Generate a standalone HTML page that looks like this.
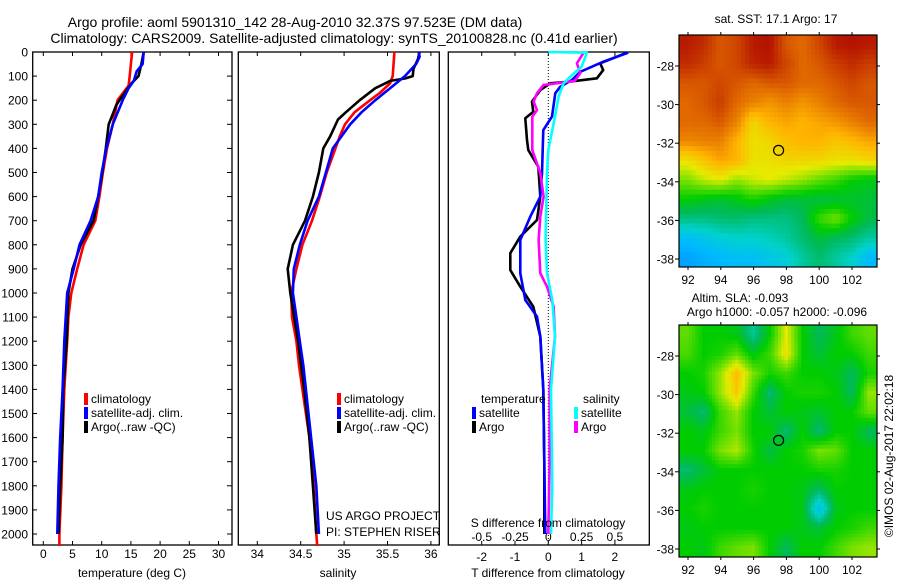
<!DOCTYPE html>
<html><head><meta charset="utf-8"><style>
html,body{margin:0;padding:0;background:#fff;}
svg{display:block;font-family:"Liberation Sans",sans-serif;}
text{fill:#000;}
</style></head><body>
<svg id="fig" width="900" height="580" viewBox="0 0 900 580">
<defs>
<clipPath id="clipA"><rect x="679" y="35" width="198" height="232"/></clipPath>
<clipPath id="clipB"><rect x="679" y="325" width="198" height="232"/></clipPath>
</defs>
<g>
<text x="295" y="27" font-size="14" text-anchor="middle">Argo profile: aoml 5901310_142 28-Aug-2010 32.37S 97.523E (DM data)</text>
<text x="334" y="43" font-size="14" text-anchor="middle">Climatology: CARS2009. Satellite-adjusted climatology: synTS_20100828.nc (0.41d earlier)</text>
</g>
<g id="p1"></g>
<g id="p2"></g>
<g id="p3"></g>
<g id="m1"></g>
<g id="m2"></g>
<text x="776" y="23" font-size="12" text-anchor="middle">sat. SST: 17.1  Argo: 17</text>
<text x="740" y="302" font-size="12" text-anchor="middle">Altim. SLA: -0.093</text>
<text x="777" y="316" font-size="12" text-anchor="middle">Argo h1000: -0.057 h2000: -0.096</text>
<text transform="translate(893,456) rotate(-90)" font-size="12" text-anchor="middle">©IMOS 02-Aug-2017 22:02:18</text>
</svg>
<script>
// ---- profile data ----
const tDepth = [0,50,100,140,200,300,400,500,600,700,800,900,1000,1100,1200,1400,1600,1800,2000,2050];
const tClim  = [15.2,15.0,14.8,14.6,12.7,11.9,10.9,10.2,9.6,8.9,6.9,5.8,4.8,4.3,4.1,3.6,3.3,3.1,2.75,2.75];
const tSatDepth = [0,50,80,120,150,200,300,400,500,600,700,800,900,1000,1200,1400,1600,1800,2000];
const tSat   = [17.2,17.0,16.0,15.5,14.6,13.6,11.9,10.8,10.0,9.4,8.1,6.2,5.2,4.1,3.6,3.3,2.9,2.6,2.4];
const tArgoDepth = [0,50,100,130,170,220,270,300,400,500,600,700,800,900,1000,1200,1400,1600,1800,2000];
const tArgo  = [17.2,16.8,16.3,15.1,13.9,12.5,11.7,11.2,10.7,10.1,9.4,8.6,6.4,5.0,4.3,4.0,3.4,3.3,2.9,2.6];

const sClimDepth = [0,100,130,170,200,250,300,350,400,500,600,700,800,900,1000,1100,1200,1300,1400,1500,1600,1800,2000,2050];
const sClim  = [35.58,35.56,35.53,35.41,35.30,35.12,35.01,34.95,34.90,34.80,34.72,34.63,34.52,34.45,34.39,34.40,34.45,34.48,34.52,34.56,34.60,34.65,34.68,34.69];
const sSatDepth = [0,20,50,100,150,200,250,300,400,500,600,700,800,900,1000,1100,1200,1300,1400,1600,1800,2000];
const sSat   = [35.86,35.87,35.83,35.70,35.53,35.36,35.20,35.07,34.87,34.79,34.71,34.58,34.49,34.42,34.41,34.45,34.49,34.53,34.56,34.62,34.68,34.71];
const sArgoDepth = [0,30,70,100,110,120,150,200,250,280,350,400,500,600,700,800,850,900,1000,1200,1400,1600,1800,2000];
const sArgo  = [35.87,35.85,35.80,35.79,35.70,35.53,35.36,35.18,35.02,34.93,34.84,34.76,34.71,34.64,34.55,34.41,34.38,34.35,34.38,34.47,34.54,34.60,34.64,34.68];

const dTSatDepth = [3,40,82,116,144,171,268,324,503,600,683,780,918,1029,1098,1181,1400,1700,2000];
const dTSat  = [2.4,1.66,0.96,0.71,0.36,0.21,0.11,-0.15,-0.19,-0.24,-0.54,-0.84,-0.84,-0.69,-0.34,-0.24,-0.15,-0.12,-0.09];
const dTArgoDepth = [3,47,75,109,123,130,158,206,248,275,365,407,476,600,697,766,835,905,974,1057,1181,1400,1700,2000];
const dTArgo = [2.36,1.56,1.65,1.46,0.66,0.06,-0.24,-0.49,-0.45,-0.69,-0.64,-0.60,-0.30,-0.24,-0.34,-0.84,-1.14,-1.14,-0.84,-0.45,-0.24,-0.15,-0.12,-0.12];
const dSSatDepth = [0,3,61,102,130,185,268,407,503,780,918,1029,1181,1400,1800,2000];
const dSSat  = [0,0.29,0.25,0.165,0.115,0.077,0.05,0.0,-0.01,-0.02,-0.01,0.03,0.05,0.02,0.03,0.02];
const dSArgoDepth = [3,47,88,120,137,171,206,241,268,407,503,600,683,780,918,974,1057,1181,1400,1700,2000];
const dSArgo = [0.265,0.215,0.24,0.2,-0.035,-0.085,-0.11,-0.085,-0.12,-0.12,-0.06,-0.035,-0.06,-0.073,-0.06,-0.01,0.04,0.05,0.01,0.01,0.0];

const depthTicks = [0,100,200,300,400,500,600,700,800,900,1000,1100,1200,1300,1400,1500,1600,1700,1800,1900,2000];
const tempTicks = [0,5,10,15,20,25,30];
const salTicks = [34,34.5,35,35.5,36];
const salTickLabels = ["34","34.5","35","35.5","36"];
const dtTicks = [-2,-1,0,1,2];
const dsTicks = [-0.5,-0.25,0,0.25,0.5];
const dsTickLabels = ["-0.5","-0.25","0","0.25","0.5"];

// ---- map data (rows north->south, cols west->east, normalised colour value) ----
const lonTicks = [92,94,96,98,100,102];
const latTicks = [-28,-30,-32,-34,-36,-38];
const sstGrid = [
[0.97,0.95,0.9,0.92,0.97,0.98,0.9,0.88,0.92,0.97,0.98,0.97],
[0.95,0.93,0.9,0.92,0.96,0.97,0.92,0.88,0.9,0.93,0.95,0.93],
[0.9,0.9,0.92,0.9,0.88,0.9,0.9,0.88,0.88,0.9,0.92,0.9],
[0.88,0.9,0.93,0.88,0.85,0.82,0.85,0.82,0.85,0.88,0.9,0.9],
[0.88,0.88,0.9,0.85,0.72,0.78,0.8,0.78,0.8,0.82,0.85,0.88],
[0.84,0.85,0.85,0.78,0.7,0.72,0.76,0.78,0.78,0.75,0.77,0.8],
[0.7,0.75,0.8,0.78,0.7,0.7,0.72,0.72,0.72,0.7,0.7,0.72],
[0.6,0.65,0.68,0.62,0.66,0.68,0.65,0.62,0.58,0.55,0.5,0.48],
[0.5,0.48,0.46,0.48,0.52,0.48,0.45,0.45,0.44,0.45,0.46,0.45],
[0.38,0.38,0.4,0.4,0.38,0.38,0.38,0.42,0.55,0.6,0.5,0.44],
[0.22,0.25,0.28,0.3,0.3,0.32,0.35,0.4,0.45,0.42,0.4,0.35],
[0.15,0.18,0.2,0.22,0.22,0.25,0.28,0.35,0.4,0.35,0.3,0.2]];
const slaGrid = [
[0.58,0.5,0.5,0.48,0.36,0.5,0.68,0.5,0.42,0.48,0.55,0.58],
[0.56,0.5,0.52,0.58,0.48,0.55,0.7,0.5,0.45,0.5,0.5,0.55],
[0.5,0.52,0.62,0.76,0.6,0.52,0.55,0.5,0.5,0.48,0.42,0.52],
[0.48,0.5,0.62,0.74,0.55,0.4,0.5,0.52,0.52,0.5,0.42,0.62],
[0.45,0.4,0.55,0.62,0.5,0.45,0.5,0.48,0.46,0.5,0.5,0.58],
[0.5,0.48,0.55,0.6,0.5,0.5,0.4,0.5,0.4,0.5,0.5,0.42],
[0.5,0.5,0.6,0.64,0.52,0.44,0.5,0.52,0.6,0.58,0.5,0.5],
[0.4,0.45,0.5,0.5,0.5,0.5,0.5,0.5,0.52,0.52,0.5,0.5],
[0.48,0.5,0.5,0.5,0.52,0.5,0.5,0.48,0.42,0.5,0.5,0.5],
[0.5,0.52,0.5,0.5,0.5,0.5,0.5,0.48,0.22,0.48,0.5,0.5],
[0.48,0.5,0.5,0.5,0.5,0.5,0.5,0.48,0.45,0.5,0.52,0.55],
[0.5,0.48,0.55,0.58,0.6,0.5,0.42,0.5,0.5,0.55,0.6,0.62]];
const argoLon = [97.523];
const argoLat = [-32.37];

const NS = "http://www.w3.org/2000/svg";
function mk(parent, tag, attrs, txt){
  const e = document.createElementNS(NS, tag);
  for (const k in attrs) e.setAttribute(k, attrs[k]);
  if (txt !== undefined) e.textContent = txt;
  parent.appendChild(e);
  return e;
}
const PT = 52, PB = 545;
const yD = d => PT + d * 0.241;
const xT = t => 43.3 + t * 5.84;
const xS = s => 257.3 + (s - 34) * 86.8;
const xDT = t => 548.3 + t * 33.3;
const xDS = s => 548.3 + s * 133.2;

function frame(g, x0, x1, name){
  const r = mk(g, 'rect', {x:x0, y:PT, width:x1-x0, height:PB-PT, fill:'none', stroke:'#000', 'stroke-width':1.3});
  
  
}
function line(g, depths, vals, fx, color, name, w){
  const pts = depths.map((d,i)=> fx(vals[i]).toFixed(1)+','+yD(d).toFixed(1)).join(' ');
  const p = mk(g, 'polyline', {points:pts, fill:'none', stroke:color, 'stroke-width':w||2.6, 'stroke-linejoin':'round'});
  
  
}
function xTicks(g, ticks, labels, fx, ly, fs){
  ticks.forEach((t,i)=>{
    const x = fx(t);
    mk(g,'line',{x1:x,x2:x,y1:PT,y2:PT+4,stroke:'#000','stroke-width':1});
    mk(g,'line',{x1:x,x2:x,y1:PB,y2:PB-4,stroke:'#000','stroke-width':1});
    const tx = mk(g,'text',{x:x,y:ly,'font-size':fs||12,'text-anchor':'middle'}, labels[i]);
    
    
  });
}
function legend(g, x, y, color, label){
  mk(g,'rect',{x:x-2,y:y-10,width:4,height:12,fill:color});
  const t = mk(g,'text',{x:x+5,y:y,'font-size':12}, label);
  
  
}

// Panel 1
const p1 = document.getElementById('p1');
frame(p1, 32.7, 232, 'temperature-plot-frame');
depthTicks.forEach(d=>{
  const y = yD(d);
  mk(p1,'line',{x1:32.7,x2:37,y1:y,y2:y,stroke:'#000'});
  mk(p1,'line',{x1:232,x2:227,y1:y,y2:y,stroke:'#000'});
  const t = mk(p1,'text',{x:28,y:y+4.5,'font-size':12,'text-anchor':'end'}, String(d));
  
  
});
xTicks(p1, tempTicks, tempTicks.map(String), xT, 558);
line(p1, tDepth, tClim, xT, '#ff0000', 'temp-climatology-line');
line(p1, tArgoDepth, tArgo, xT, '#000000', 'temp-argo-line');
line(p1, tSatDepth, tSat, xT, '#0000ff', 'temp-satellite-line');
legend(p1, 86, 403, '#ff0000', 'climatology');
legend(p1, 86, 417, '#0000ff', 'satellite-adj. clim.');
legend(p1, 86, 431, '#000000', 'Argo(..raw -QC)');
mk(p1,'text',{x:132,y:577,'font-size':12,'text-anchor':'middle'},'temperature (deg C)');

// Panel 2
const p2 = document.getElementById('p2');
frame(p2, 238.3, 439.3, 'salinity-plot-frame');
xTicks(p2, salTicks, salTickLabels, xS, 558);
line(p2, sClimDepth, sClim, xS, '#ff0000', 'sal-climatology-line');
line(p2, sArgoDepth, sArgo, xS, '#000000', 'sal-argo-line');
line(p2, sSatDepth, sSat, xS, '#0000ff', 'sal-satellite-line');
legend(p2, 339, 403, '#ff0000', 'climatology');
legend(p2, 339, 417, '#0000ff', 'satellite-adj. clim.');
legend(p2, 339, 431, '#000000', 'Argo(..raw -QC)');
mk(p2,'text',{x:326,y:520,'font-size':12},'US ARGO PROJECT');
mk(p2,'text',{x:326,y:536,'font-size':12},'PI: STEPHEN RISER');
mk(p2,'text',{x:338,y:577,'font-size':12,'text-anchor':'middle'},'salinity');

// Panel 3
const p3 = document.getElementById('p3');
frame(p3, 448.3, 649.3, 'difference-plot-frame');
mk(p3,'line',{x1:xDT(0),x2:xDT(0),y1:PT,y2:PB,stroke:'#000','stroke-width':1,'stroke-dasharray':'1,2'});
xTicks(p3, dtTicks, dtTicks.map(String), xDT, 561);
dsTicks.forEach((s,i)=>{
  const t = mk(p3,'text',{x:xDS(s),y:541,'font-size':12,'text-anchor':'middle'}, dsTickLabels[i]);
  
  
});
line(p3, dTArgoDepth, dTArgo, xDT, '#000000', 't-diff-argo-line');
line(p3, dTSatDepth, dTSat, xDT, '#0000ff', 't-diff-satellite-line');
line(p3, dSArgoDepth, dSArgo, xDS, '#ff00ff', 's-diff-argo-line');
line(p3, dSSatDepth, dSSat, xDS, '#00ffff', 's-diff-satellite-line');
mk(p3,'text',{x:481,y:403,'font-size':12},'temperature');
mk(p3,'text',{x:583,y:403,'font-size':12},'salinity');
legend(p3, 474, 417, '#0000ff', 'satellite');
legend(p3, 474, 431, '#000000', 'Argo');
legend(p3, 576, 417, '#00ffff', 'satellite');
legend(p3, 576, 431, '#ff00ff', 'Argo');
mk(p3,'text',{x:548,y:527,'font-size':12,'text-anchor':'middle'},'S difference from climatology');
mk(p3,'text',{x:548,y:577,'font-size':12,'text-anchor':'middle'},'T difference from climatology');

// colour map
const stops = [[0,[0,90,255]],[0.2,[0,185,255]],[0.3,[0,210,205]],[0.42,[0,185,90]],[0.5,[0,205,0]],[0.6,[120,225,0]],[0.68,[230,235,0]],[0.78,[255,180,0]],[0.88,[225,105,0]],[1,[170,0,0]]];
function cmap(v){
  for (let i=1;i<stops.length;i++){
    if (v<=stops[i][0]){
      const a=stops[i-1], b=stops[i], f=(v-a[0])/(b[0]-a[0]);
      const c=a[1].map((x,k)=>Math.round(x+(b[1][k]-x)*f));
      return 'rgb('+c.join(',')+')';
    }
  }
  return 'rgb(170,0,0)';
}
function sample(grid, fr, fc){
  const nr=grid.length, nc=grid[0].length;
  fr=Math.max(0,Math.min(nr-1,fr)); fc=Math.max(0,Math.min(nc-1,fc));
  const r0=Math.floor(fr), c0=Math.floor(fc), r1=Math.min(nr-1,r0+1), c1=Math.min(nc-1,c0+1);
  const a=fr-r0, b=fc-c0;
  return grid[r0][c0]*(1-a)*(1-b)+grid[r0][c1]*(1-a)*b+grid[r1][c0]*a*(1-b)+grid[r1][c1]*a*b;
}
function drawMap(id, grid, top, clip, sub){
  const g = document.getElementById(id);
  const L=679, R=877, B=top+232;
  const lonX = lon => 688 + (lon-92)*16.4;
  const latY = lat => top + 31 + (-28 - lat)*19.3;
  const cg = mk(g,'g',{'clip-path':'url(#'+clip+')'});
  const nr = grid.length*sub, nc = grid[0].length*sub;
  const cw = (R-L)/nc, ch = (B-top)/nr;
  for (let r=0;r<nr;r++) for (let c=0;c<nc;c++){
    const v = sample(grid, (r+0.5)/sub-0.5, (c+0.5)/sub-0.5);
    const cell = mk(cg,'rect',{x:(L+c*cw).toFixed(1), y:(top+r*ch).toFixed(1), width:(cw+0.5).toFixed(1), height:(ch+0.5).toFixed(1), fill:cmap(v)});
    
    
  }
  mk(g,'rect',{x:L,y:top,width:R-L,height:B-top,fill:'none',stroke:'#000','stroke-width':1.2});
  lonTicks.forEach(lon=>{
    const x = lonX(lon);
    mk(g,'line',{x1:x,x2:x,y1:top,y2:top-3,stroke:'#000'});
    mk(g,'line',{x1:x,x2:x,y1:B,y2:B+3,stroke:'#000'});
    const t = mk(g,'text',{x:x,y:B+17,'font-size':12,'text-anchor':'middle'}, String(lon));
    
    
  });
  latTicks.forEach(lat=>{
    const y = latY(lat);
    mk(g,'line',{x1:L,x2:L-4,y1:y,y2:y,stroke:'#000'});
    mk(g,'line',{x1:R,x2:R+3,y1:y,y2:y,stroke:'#000'});
    const t = mk(g,'text',{x:674,y:y+4.5,'font-size':12,'text-anchor':'end'}, String(lat));
    
    
  });
  argoLon.forEach((lon,i)=>{
    const c = mk(g,'circle',{cx:lonX(lon),cy:latY(argoLat[i]),r:5,fill:'none',stroke:'#000','stroke-width':1.2});
    
    
  });
}
drawMap('m1', sstGrid, 35, 'clipA', 4);
drawMap('m2', slaGrid, 325, 'clipB', 5);
</script>
</body></html>
